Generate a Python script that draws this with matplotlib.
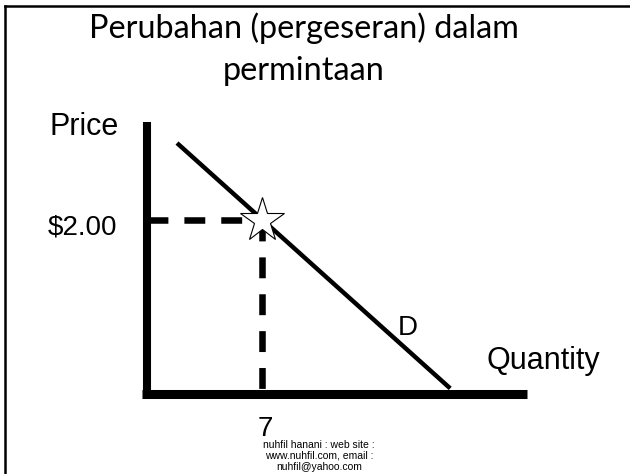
import matplotlib
matplotlib.use("Agg")
import matplotlib.pyplot as plt
from matplotlib.lines import Line2D

# demand curve (quantity, price)
demand_q = [1.83, 18.5]
demand_p = [2.89, 0.07]

# the point on the curve that is marked with the star
point_q = 7
point_p = 2.00

price_label = "$2.00"
qty_label = "7"
title_lines = ["Perubahan (pergeseran) dalam", "permintaan"]
footer = "nuhfil hanani : web site :\nwww.nuhfil.com, email :\nnuhfil@yahoo.com"

W, H = 630, 474


def fx(px):
    return px / W


def fy(py):
    return 1 - py / H


fig = plt.figure(figsize=(W / 100, H / 100), dpi=100)
fig.patch.set_facecolor("white")

# one axes over the whole slide, origin sits where the two axis lines cross
ax = fig.add_axes([0, 0, 1, 1])
ax.axis("off")
ax.set_xlim(-8.97, 29.47)
ax.set_ylim(-0.914, 4.534)

# slide frame (only top and left edges show)
fig.add_artist(Line2D([fx(5), fx(W)], [fy(6.3), fy(6.3)], color="black", lw=1.8))
fig.add_artist(Line2D([fx(5.3), fx(5.3)], [fy(5.5), fy(H)], color="black", lw=1.8))

# the axis lines
ax.plot([0, 0], [3.13, -0.05], color="black", lw=5.8, solid_capstyle="butt")
ax.plot([-0.33, 23.2], [0, 0], color="black", lw=6.5, solid_capstyle="butt")

# demand line
ax.plot(demand_q, demand_p, color="black", lw=3.2, solid_capstyle="butt")

# dashed guides to the axes
ax.plot([0, point_q], [point_p, point_p], color="black", lw=4.7,
        linestyle=(0, (3.2, 2.45)))
ax.plot([point_q, point_q], [point_p, 0], color="black", lw=4.7,
        linestyle=(0, (3.2, 2.45)))

# star marker
ax.plot(point_q, point_p, marker="*", ms=33, mfc="white", mec="black",
        mew=0.8, zorder=5)

# title
fig.text(fx(303.5), fy(38), title_lines[0], family="Lato", fontsize=23.3,
         ha="center", va="baseline")
fig.text(fx(303.5), fy(80), title_lines[1], family="Lato", fontsize=23.3,
         ha="center", va="baseline")

# axis labels
fig.text(fx(50), fy(135), "Price", family="Liberation Sans", fontsize=22,
         va="baseline")
fig.text(fx(486), fy(369), "Quantity", family="Liberation Sans", fontsize=22,
         va="baseline")
fig.text(fx(398), fy(335), "D", family="Liberation Sans", fontsize=20,
         va="baseline")

# value labels
ax.text(-1.83, 1.833, price_label, family="Liberation Sans", fontsize=20,
        ha="right", va="baseline")
ax.text(6.77, -0.48, qty_label, family="Liberation Sans", fontsize=20,
        ha="left", va="baseline")

# footer
fig.text(fx(319), fy(439.5), footer, family="Liberation Sans", fontsize=7.5,
         ha="center", va="top", multialignment="center", linespacing=1.15)

fig.savefig("out.png", dpi=100, facecolor="white")
